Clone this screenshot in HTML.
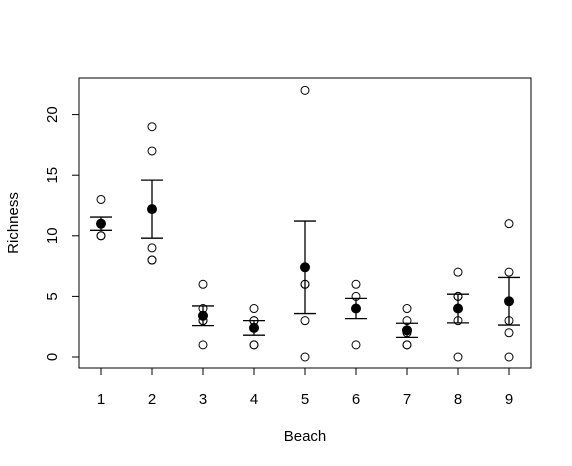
<!DOCTYPE html>
<html><head><meta charset="utf-8"><style>
body{margin:0;background:#fff}
svg{display:block;font-family:"Liberation Sans",sans-serif}
</style></head><body>
<svg id="chart" width="572" height="466">
<rect x="79" y="78" width="452" height="290" fill="none" stroke="#000"/>
<g id="axes"></g><g id="marks"></g>
<text x="305" y="441" text-anchor="middle" font-size="15">Beach</text>
<text transform="translate(18,223) rotate(-90)" text-anchor="middle" font-size="15">Richness</text>
</svg>
<script>
const beaches=[1,2,3,4,5,6,7,8,9];
const b1=[11,10,13,11,10];
const b2=[8,9,8,19,17];
const b3=[4,3,3,1,6];
const b4=[4,3,3,1,1];
const b5=[3,22,6,0,6];
const b6=[5,4,1,6,4];
const b7=[2,1,1,3,4];
const b8=[3,5,7,5,0];
const b9=[7,11,3,0,2];
const richness=[b1,b2,b3,b4,b5,b6,b7,b8,b9];
const yTicks=[0,5,10,15,20];
const xTicks=[1,2,3,4,5,6,7,8,9];
const NS="http://www.w3.org/2000/svg";
const X=v=>101+(v-1)*51;
const Y=v=>357-v*12.12;
function mk(t,a,p){const e=document.createElementNS(NS,t);for(const k in a)e.setAttribute(k,a[k]);p.appendChild(e);return e;}
const ax=document.getElementById('axes'),mg=document.getElementById('marks');
yTicks.forEach(v=>{
 const l=mk('line',{x1:72,x2:79,y1:Y(v),y2:Y(v),stroke:'#000'},ax);
 
 
 const t=mk('text',{transform:`translate(57,${Y(v)}) rotate(-90)`,'text-anchor':'middle','font-size':15},ax);
 t.textContent=v;
 
 
});
xTicks.forEach(v=>{
 const l=mk('line',{x1:X(v),x2:X(v),y1:368,y2:375,stroke:'#000'},ax);
 
 
 const t=mk('text',{x:X(v),y:404,'text-anchor':'middle','font-size':15},ax);
 t.textContent=v;
 
 
});
beaches.forEach((b,i)=>{
 const vals=richness[i];const n=vals.length;
 const m=vals.reduce((a,c)=>a+c,0)/n;
 const sd=Math.sqrt(vals.reduce((a,c)=>a+(c-m)**2,0)/(n-1));
 const se=sd/Math.sqrt(n);
 vals.forEach(v=>{
  const c=mk('circle',{cx:X(b),cy:Y(v),r:4,fill:'none',stroke:'#000'},mg);
  
  
 });
 const g=mk('g',{stroke:'#000','stroke-width':1.3},mg);
 
 
 mk('line',{x1:X(b),x2:X(b),y1:Y(m-se),y2:Y(m+se)},g);
 mk('line',{x1:X(b)-11,x2:X(b)+11,y1:Y(m-se),y2:Y(m-se)},g);
 mk('line',{x1:X(b)-11,x2:X(b)+11,y1:Y(m+se),y2:Y(m+se)},g);
 const mc=mk('circle',{cx:X(b),cy:Y(m),r:5,fill:'#000'},mg);
 
 
});
</script>
</body></html>
